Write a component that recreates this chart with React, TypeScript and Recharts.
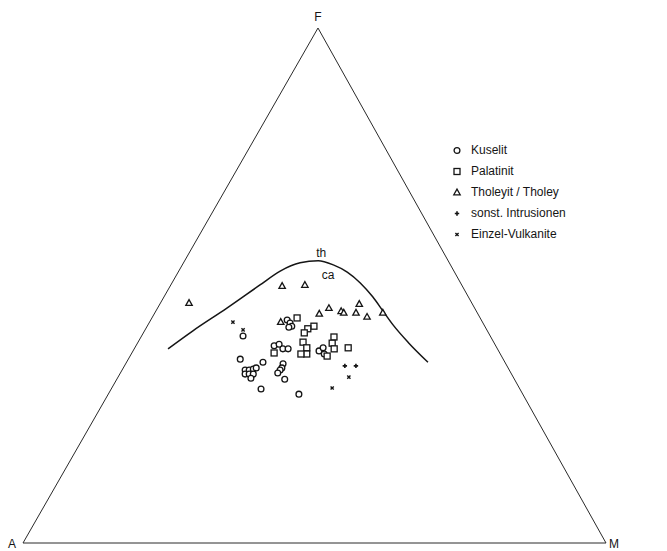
import { ComposedChart, Legend, Line, ReferenceDot, Scatter, XAxis, YAxis } from 'recharts'

// Ternary points as [A, F, M] in percent
type Tern = [number, number, number]

const vertexNames = ['A', 'F', 'M']
const corners: Tern[] = [
  [100, 0, 0],
  [0, 100, 0],
  [0, 0, 100],
]

const kuselit: Tern[] = [
  [42.4, 40.2, 17.4],
  [33.3, 43.3, 23.4],
  [33.1, 42.7, 24.2],
  [33.1, 42.1, 24.8],
  [33.7, 41.9, 24.4],
  [38.0, 38.3, 23.7],
  [37.0, 38.6, 24.4],
  [36.8, 37.7, 25.5],
  [35.9, 37.7, 26.4],
  [30.8, 37.3, 31.9],
  [29.8, 37.9, 32.3],
  [30.2, 36.7, 33.1],
  [45.1, 35.7, 19.2],
  [41.5, 35.1, 23.4],
  [45.3, 33.6, 21.1],
  [44.6, 33.6, 21.8],
  [43.8, 33.8, 22.4],
  [43.2, 34.0, 22.8],
  [45.7, 32.8, 21.5],
  [45.0, 32.8, 22.2],
  [44.3, 32.8, 22.9],
  [45.1, 32.0, 22.9],
  [38.2, 34.8, 27.0],
  [38.8, 34.0, 27.2],
  [39.3, 33.6, 27.1],
  [40.0, 33.0, 27.0],
  [39.4, 31.8, 28.8],
  [44.4, 29.9, 25.7],
  [38.4, 28.9, 32.7],
]

const palatinit: Tern[] = [
  [31.4, 43.7, 24.9],
  [29.3, 42.1, 28.6],
  [30.6, 41.6, 27.8],
  [31.6, 40.8, 27.6],
  [32.7, 39.0, 28.3],
  [32.6, 37.9, 29.5],
  [33.2, 36.7, 30.1],
  [34.2, 36.7, 29.1],
  [38.7, 36.9, 24.4],
  [26.9, 40.0, 33.1],
  [27.8, 38.8, 33.4],
  [28.0, 37.7, 34.3],
  [29.9, 36.3, 33.8],
  [25.5, 37.9, 36.6],
]

const tholeyit: Tern[] = [
  [48.5, 46.6, 4.9],
  [30.9, 49.9, 19.2],
  [26.9, 50.1, 23.0],
  [27.2, 44.5, 28.3],
  [25.0, 45.6, 29.4],
  [23.2, 45.0, 31.8],
  [22.9, 44.7, 32.4],
  [20.8, 44.7, 34.5],
  [19.4, 46.4, 34.2],
  [19.3, 43.9, 36.8],
  [16.2, 44.7, 39.1],
  [34.6, 42.9, 22.5],
]

const intrusionen: Tern[] = [
  [27.8, 34.4, 37.8],
  [25.9, 34.4, 39.7],
]

const vulkanite: Tern[] = [
  [42.8, 42.9, 14.3],
  [41.8, 41.4, 16.8],
  [28.2, 32.2, 39.6],
  [32.1, 30.1, 37.8],
]

// tholeiitic / calc-alkaline dividing line
const boundary: Tern[] = [
  [56.5, 37.7, 5.8],
  [50.5, 41.2, 8.3],
  [42.5, 45.6, 11.9],
  [34.6, 50.1, 15.3],
  [29.8, 52.8, 17.4],
  [25.6, 54.4, 20.0],
  [22.3, 54.8, 22.9],
  [20.1, 54.0, 25.9],
  [18.4, 52.6, 29.0],
  [17.2, 50.5, 32.3],
  [16.4, 47.8, 35.8],
  [16.0, 45.0, 39.0],
  [15.6, 42.3, 42.1],
  [14.7, 39.0, 46.3],
  [13.2, 35.1, 51.7],
]
const boundaryNames = ['th', 'ca']

const legendNames = ['Kuselit', 'Palatinit', 'Tholeyit / Tholey', 'sonst. Intrusionen', 'Einzel-Vulkanite']

// the F apex is drawn a little right of the A–M midpoint
const APEX_SHIFT = 0.506
const toXY = ([, f, m]: Tern) => ({ x: m + APEX_SHIFT * f, y: f })

const INK = '#151515'

type Kind = 'circle' | 'square' | 'triangle' | 'plus' | 'cross'
const legendKinds: Kind[] = ['circle', 'square', 'triangle', 'plus', 'cross']

function Marker({ kind, cx, cy }: { kind: Kind; cx: number; cy: number }) {
  switch (kind) {
    case 'circle':
      return <circle cx={cx} cy={cy} r={2.9} fill="#fff" stroke={INK} strokeWidth={1.3} />
    case 'square':
      return <rect x={cx - 3} y={cy - 3} width={6} height={6} fill="#fff" stroke={INK} strokeWidth={1.3} />
    case 'triangle':
      return (
        <polygon
          points={`${cx},${cy - 3.4} ${cx - 3.2},${cy + 2.3} ${cx + 3.2},${cy + 2.3}`}
          fill="#fff"
          stroke={INK}
          strokeWidth={1.3}
        />
      )
    case 'plus':
      return (
        <path d={`M${cx - 2.2},${cy}H${cx + 2.2}M${cx},${cy - 2.2}V${cy + 2.2}`} stroke={INK} strokeWidth={1.6} />
      )
    default:
      return (
        <path
          d={`M${cx - 1.6},${cy - 1.6}L${cx + 1.6},${cy + 1.6}M${cx + 1.6},${cy - 1.6}L${cx - 1.6},${cy + 1.6}`}
          stroke={INK}
          strokeWidth={1.4}
        />
      )
  }
}

const shapeOf = (kind: Kind) => (p: any) => <Marker kind={kind} cx={p.cx} cy={p.cy} />

const cornerOffsets: Record<string, [number, number]> = {
  A: [-11, 5],
  F: [0, -7],
  M: [8, 5],
}

function CornerLabel(p: any) {
  const name = p.payload.name
  const [dx, dy] = cornerOffsets[name]
  return (
    <text x={p.cx + dx} y={p.cy + dy} textAnchor="middle" fontSize={12} fill={INK}>
      {name}
    </text>
  )
}

function LegendBox() {
  return (
    <div style={{ fontSize: 12, color: INK, lineHeight: '21px' }}>
      {legendNames.map((name, i) => (
        <div key={name} style={{ display: 'flex', alignItems: 'center', height: 21 }}>
          <svg width={19} height={21}>
            <Marker kind={legendKinds[i]} cx={5} cy={10.5} />
          </svg>
          <span>{name}</span>
        </div>
      ))}
    </div>
  )
}

function CurveLabel({ viewBox, value, dx, dy }: any) {
  return (
    <text x={viewBox.x + dx} y={viewBox.y + dy} textAnchor="middle" fontSize={12} fill={INK}>
      {value}
    </text>
  )
}

export default function App() {
  const outline = [...corners, corners[0]].map(toXY)
  const cornerPts = corners.map((c, i) => ({ ...toXY(c), name: vertexNames[i] }))
  const curve = boundary.map(toXY)
  const peak = curve[6]

  return (
    <div style={{ position: 'absolute', left: 0, top: 0, fontFamily: '"Liberation Sans", Arial, sans-serif' }}>
      <ComposedChart width={667} height={551} margin={{ top: 28, right: 61, bottom: 8, left: 23 }}>
        <XAxis type="number" dataKey="x" domain={[0, 100]} hide />
        <YAxis type="number" dataKey="y" domain={[0, 100]} hide />
        <Line
          data={outline}
          dataKey="y"
          type="linear"
          stroke="#2a2a2a"
          strokeWidth={1}
          dot={false}
          isAnimationActive={false}
          legendType="none"
        />
        <Line
          data={curve}
          dataKey="y"
          type="monotone"
          stroke={INK}
          strokeWidth={1.5}
          dot={false}
          isAnimationActive={false}
          legendType="none"
        />
        <Scatter data={cornerPts} shape={CornerLabel} isAnimationActive={false} legendType="none" />
        <Scatter data={kuselit.map(toXY)} shape={shapeOf('circle')} isAnimationActive={false} />
        <Scatter data={palatinit.map(toXY)} shape={shapeOf('square')} isAnimationActive={false} />
        <Scatter data={tholeyit.map(toXY)} shape={shapeOf('triangle')} isAnimationActive={false} />
        <Scatter data={intrusionen.map(toXY)} shape={shapeOf('plus')} isAnimationActive={false} />
        <Scatter data={vulkanite.map(toXY)} shape={shapeOf('cross')} isAnimationActive={false} />
        <ReferenceDot
          x={peak.x}
          y={peak.y}
          r={0}
          label={<CurveLabel value={boundaryNames[0]} dx={3} dy={-4} />}
        />
        <ReferenceDot
          x={peak.x}
          y={peak.y}
          r={0}
          label={<CurveLabel value={boundaryNames[1]} dx={10} dy={18} />}
        />
        <Legend
          layout="vertical"
          align="center"
          verticalAlign="middle"
          content={<LegendBox />}
          wrapperStyle={{ left: 452, top: 140, width: 160 }}
        />
      </ComposedChart>
    </div>
  )
}
